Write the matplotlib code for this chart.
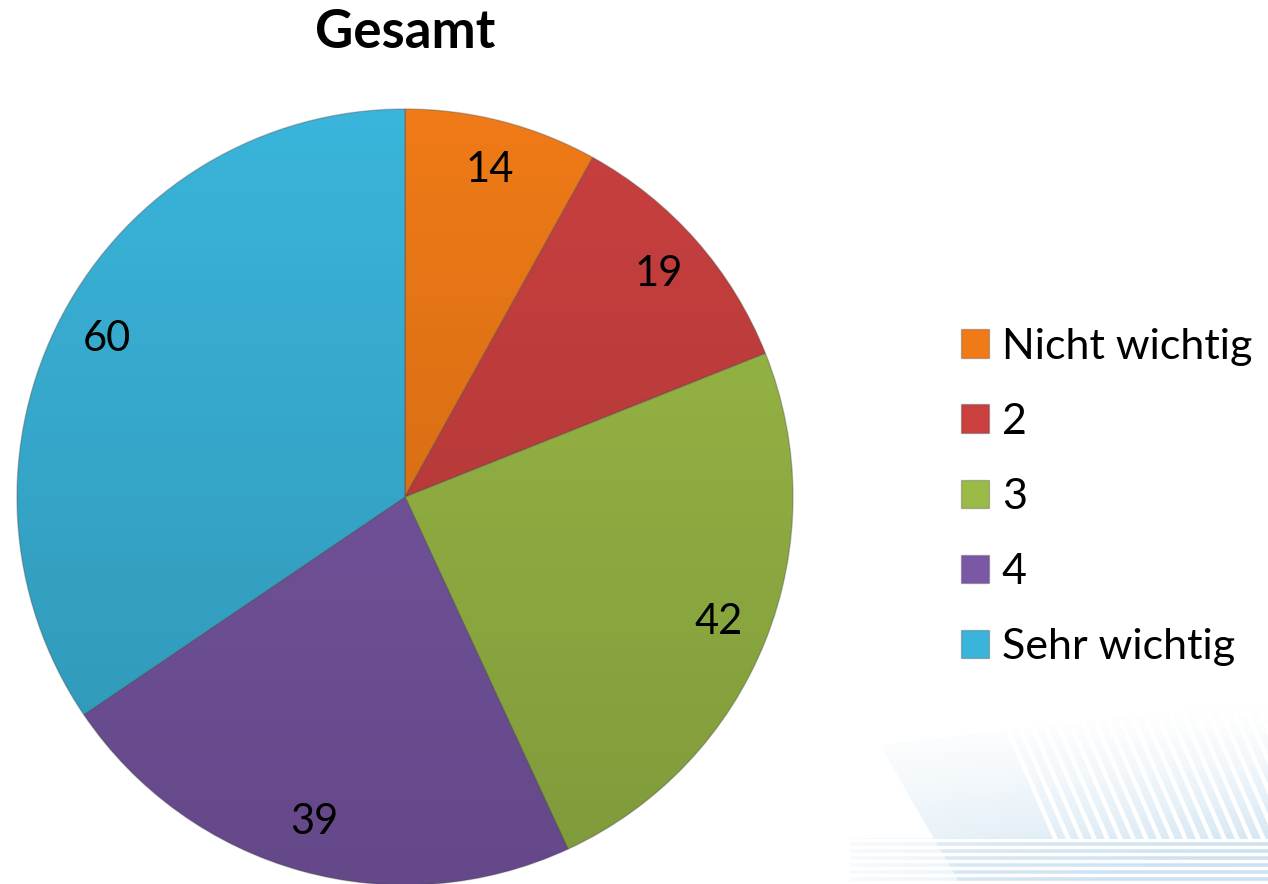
import matplotlib.pyplot as plt
import numpy as np
from matplotlib.patches import Polygon, Circle

labels = ['Nicht wichtig', '2', '3', '4', 'Sehr wichtig']
values = [14, 19, 42, 39, 60]
colors = ['#EF7A17', '#C9403F', '#9BBB47', '#7A58A6', '#3AB4DA']

plt.rcParams['font.family'] = ['Lato', 'DejaVu Sans']

fig = plt.figure(figsize=(12.68, 8.84), dpi=100)

# faint decorative background in the lower right corner
bg = fig.add_axes([0, 0, 1, 1], zorder=0)
bg.set_xlim(0, 1268)
bg.set_ylim(884, 0)
bg.axis('off')
xx, yy = np.meshgrid(np.linspace(0, 1, 200), np.linspace(0, 1, 200))
fade = np.zeros((200, 200, 4))
fade[..., 0] = 0.76
fade[..., 1] = 0.86
fade[..., 2] = 0.93
fade[..., 3] = np.clip(yy ** 1.4 * (0.45 + 0.55 * xx), 0, 1)
poly = Polygon([(880, 745), (1268, 700), (1268, 884), (960, 884)], closed=True,
               facecolor='none', edgecolor='none')
bg.add_patch(poly)
im = bg.imshow(fade, extent=(850, 1268, 884, 700), aspect='auto')
im.set_clip_path(poly)
for x0 in np.arange(995, 1400, 13):
    bg.plot([x0, x0 + 60], [700, 838], color='white', lw=3.2,
            clip_path=poly)
band = Polygon([(850, 838), (1268, 838), (1268, 884), (850, 884)], closed=True,
               facecolor='none', edgecolor='none')
bg.add_patch(band)
fade2 = np.zeros((50, 200, 4))
fade2[..., 0] = 0.80
fade2[..., 1] = 0.89
fade2[..., 2] = 0.95
fade2[..., 3] = np.linspace(0.15, 0.9, 200)[None, :]
im2 = bg.imshow(fade2, extent=(850, 1268, 884, 838), aspect='auto')
im2.set_clip_path(band)
for y0 in np.arange(840, 884, 7):
    bg.plot([850, 1268], [y0, y0], color='white', lw=2.5)

# pie
ax = fig.add_axes([17 / 1268, -1 / 884, 776 / 1268, 776 / 884], zorder=1)
total = sum(values)
wedges, texts, autotexts = ax.pie(
    values, colors=colors, startangle=90, counterclock=False, radius=1,
    autopct=lambda p: f'{round(p * total / 100)}', pctdistance=0.87,
    wedgeprops=dict(edgecolor=(0.3, 0.3, 0.3, 0.35), linewidth=1.0),
    textprops=dict(fontsize=30, color='black'))
ax.set_xlim(-1, 1)
ax.set_ylim(-1, 1)
ax.set_aspect('equal')

# soft vertical shading over the pie
shade = np.zeros((256, 1, 4))
shade[:, 0, 3] = np.linspace(0.0, 0.18, 256)
img = ax.imshow(shade, extent=(-1, 1, -1, 1), origin='upper', aspect='auto',
                zorder=2)
img.set_clip_path(Circle((0, 0), 1, transform=ax.transData))
for t in autotexts:
    t.set_zorder(3)

fig.text(405 / 1268, 1 - 33 / 884, 'Gesamt', ha='center', va='center',
         fontsize=38, fontweight='bold')

fig.legend(wedges, labels, loc='center left',
           bbox_to_anchor=(961 / 1268, 1 - 497 / 884), frameon=False,
           fontsize=31, handlelength=0.65, handleheight=0.65,
           handletextpad=0.3, labelspacing=0.86, borderpad=0,
           borderaxespad=0)

fig.savefig('out.png', dpi=100, facecolor='white')
